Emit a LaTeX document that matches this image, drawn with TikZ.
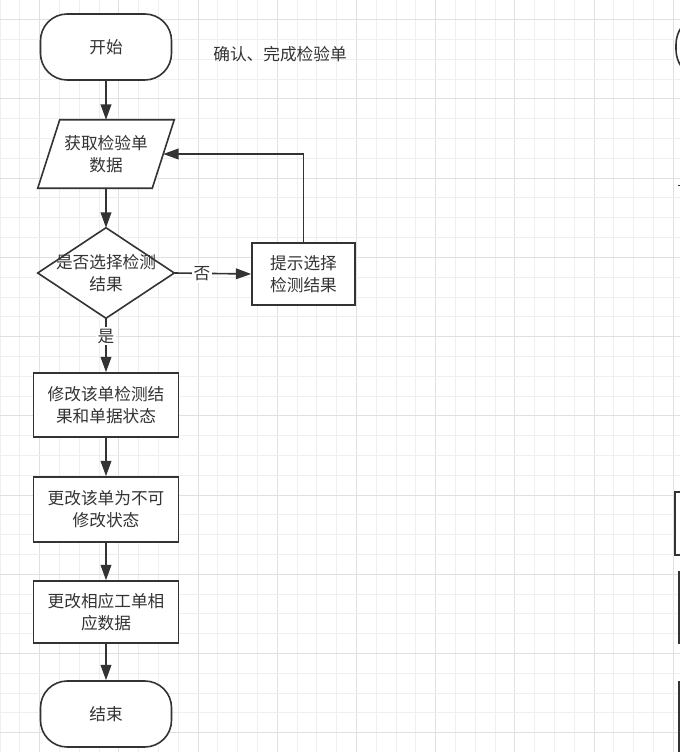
\documentclass[tikz,border=0pt]{standalone}
\usepackage{fontspec}
\newfontfamily\cjk{Noto Sans CJK SC}
\usetikzlibrary{arrows.meta,calc}
\definecolor{ink}{HTML}{333333}
\definecolor{gridminor}{HTML}{EFEFEF}
\definecolor{gridmajor}{HTML}{E0E0E0}
\tikzset{
  base/.style={draw=ink, line width=1.2pt, fill=white, text=ink,
    font=\cjk\fontsize{12.5}{16.5}\selectfont, align=center, inner sep=0pt},
  terminal/.style={base, rounded corners=20pt, minimum width=98.25pt, minimum height=49.5pt},
  procbox/.style={base, minimum width=108.75pt, minimum height=48pt},
  hole/.style={text=ink, font=\cjk\fontsize{12.5}{16.5}\selectfont, align=center, inner sep=0pt},
  flow/.style={draw=ink, line width=1.2pt, -{Triangle[length=11.5pt,width=8pt]}},
  outline/.style={draw=ink, line width=1.2pt, fill=white},
  lbl/.style={fill=white, text=ink, font=\cjk\fontsize{12.5}{15}\selectfont, inner sep=1.5pt},
  minorline/.style={draw=gridminor, line width=0.75pt},
  majorline/.style={draw=gridmajor, line width=0.75pt},
}
\begin{document}
\begin{tikzpicture}[x=0.75pt, y=-0.75pt]
\useasboundingbox (0,0) rectangle (680,752);
\fill[white] (0,0) rectangle (680,752);

% background grid
\foreach \k in {0,...,34} {
  \pgfmathtruncatemacro\m{mod(\k,4)}
  \ifnum\m=2 \draw[majorline] (\k*19.8,0) -- (\k*19.8,752);
  \else \draw[minorline] (\k*19.8,0) -- (\k*19.8,752); \fi
}
\foreach \k in {0,...,37} {
  \pgfmathtruncatemacro\m{mod(\k,4)}
  \ifnum\m=1 \draw[majorline] (0,\k*19.8) -- (680,\k*19.8);
  \else \draw[minorline] (0,\k*19.8) -- (680,\k*19.8); \fi
}

% flowchart nodes
\node[terminal] (start) at (106,47) {开始};
\node[hole] (note) at (280,54) {确认、完成检验单};

\node[hole, minimum width=85.5pt, minimum height=51pt] (fetch) at (106,154) {};
\draw[outline] ($(fetch.north west)+(11,0)$) -- ($(fetch.north east)+(11,0)$)
  -- ($(fetch.south east)+(-11,0)$) -- ($(fetch.south west)+(-11,0)$) -- cycle;
\node[hole] at (fetch) {获取检验单\\数据};

\node[hole, minimum width=102pt, minimum height=67.5pt] (check) at (106,273) {};
\draw[outline] (check.north) -- (check.east) -- (check.south) -- (check.west) -- cycle;
\node[hole] at (check) {是否选择检测\\结果};

\node[base, minimum width=77.25pt, minimum height=46.5pt] (hint) at (303.5,274) {提示选择\\检测结果};

\node[procbox] (modify) at (106,405) {修改该单检测结\\果和单据状态};
\node[procbox, minimum height=48.75pt] (lock) at (106,509.5) {更改该单为不可\\修改状态};
\node[procbox, minimum height=46.5pt] (update) at (106,612) {更改相应工单相\\应数据};
\node[terminal] (stop) at (106,714) {结束};

% connectors
\draw[flow] (start.south) -- (fetch.north);
\draw[flow] (fetch.south) -- (check.north);
\draw[flow] (check.east) -- node[lbl, pos=0.36] {否} (hint.west);
\draw[flow] (hint.north) |- (fetch.east);
\draw[flow] (check.south) -- node[lbl, pos=0.33] {是} (modify.north);
\draw[flow] (modify.south) -- (lock.north);
\draw[flow] (lock.south) -- (update.north);
\draw[flow] (update.south) -- (stop.north);

% neighbouring chart, cut by the page edge
\begin{scope}
  \clip (0,0) rectangle (680,752);
  \draw[outline, rounded corners=23pt] (676,14) rectangle (807,80);
  \draw[draw=ink, line width=1.2pt] (678,185.5) -- (681,185.5);
  \draw[outline] (675,492) rectangle (820,555);
  \draw[outline] (679,572) rectangle (820,643);
  \draw[outline] (679,682) rectangle (820,760);
\end{scope}
\end{tikzpicture}
\end{document}
